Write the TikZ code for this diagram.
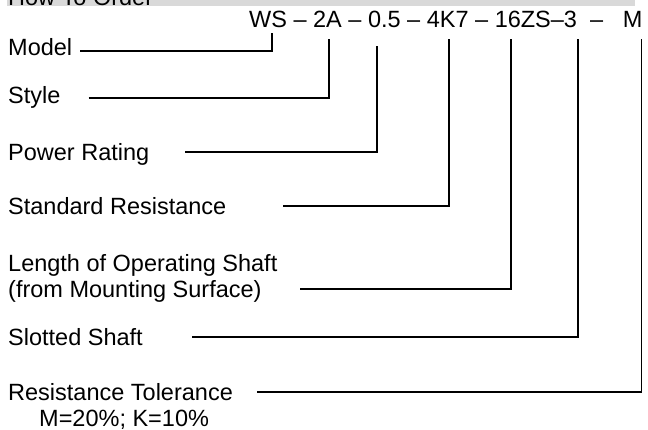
\documentclass[tikz,border=0pt]{standalone}
\usepackage{fontspec}
\setmainfont{Liberation Sans}
\usepackage{xcolor}
\usepackage{tikz}
\usetikzlibrary{positioning}
\definecolor{bargray}{RGB}{217, 217, 217}

\begin{document}
\begin{tikzpicture}[x=1pt, y=-1pt,
    item/.style={anchor=west, inner sep=0pt, text height=17pt, text depth=0pt,
                 font=\fontsize{23.5}{26}\selectfont},
    code/.style={anchor=base west, inner sep=0pt,
                 font=\fontsize{23.5}{26}\selectfont},
    leader/.style={line width=1.8pt, line join=miter, black}
]
    \useasboundingbox (0,0) rectangle (648,430);
    \clip (0,0) rectangle (648,430);

    % Title bar (cut off at the top)
    \fill[bargray] (7,-30) rectangle (635,6.5);
    \node[code] (title) at (8,6) {How To Order};

    % Order code
    \node[code] (order) at (249,28) {WS -- 2A -- 0.5 -- 4K7 -- 16ZS--3 \ -- \ \ M};

    % Tips under the code
    \coordinate (tipWS) at (272,33);
    \coordinate (tipStyle) at (329,39);
    \coordinate (tipPower) at (377,46);
    \coordinate (tipRes) at (449,39);
    \coordinate (tipLen) at (511,39);
    \coordinate (tipSlot) at (578,39);
    \coordinate (tipTol) at (641.5,39);

    % Labels
    \node[item] (model) at (8,47) {Model};
    \node[item] (style) at (8,95.3) {Style};
    \node[item] (power) at (8,151.7) {Power Rating};
    \node[item] (stdres) at (8,206) {Standard Resistance};
    \node[item] (lenA) at (8,263) {Length of Operating Shaft};
    \node[item] (lenB) at (8,289) {(from Mounting Surface)};
    \node[item] (slot) at (8,337.3) {Slotted Shaft};
    \node[item] (tol) at (8,392.3) {Resistance Tolerance};
    \node[item] (tolNote) at (39,417.5) {M=20\%; K=10\%};

    % Leaders
    \draw[leader] ([yshift=-4pt]model.east) ++(8,0) -| (tipWS);
    \draw[leader] ([yshift=-3pt]style.east) ++(28,0) -| (tipStyle);
    \draw[leader] (185,0 |- power.east) -| (tipPower);
    \draw[leader] (283,0 |- stdres.east) -| (tipRes);
    \draw[leader] (300,0 |- lenB.east) -| (tipLen);
    \draw[leader] (192,0 |- slot.east) -| (tipSlot);
    \draw[leader] (257,0 |- tol.east) -| (tipTol);
\end{tikzpicture}
\end{document}
